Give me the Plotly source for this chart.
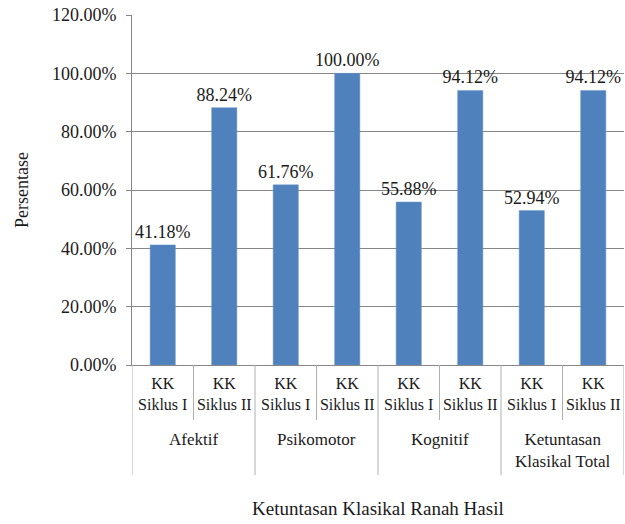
import plotly.graph_objects as go

groups = ["Afektif", "Psikomotor", "Kognitif", "Ketuntasan<br>Klasikal Total"]
siklus = ["KK<br>Siklus I", "KK<br>Siklus II"]
values = [41.18, 88.24, 61.76, 100.00, 55.88, 94.12, 52.94, 94.12]
y_ticks = [0, 20, 40, 60, 80, 100, 120]

labels = [s for g in groups for s in siklus]
xs = list(range(len(labels)))
vals = [v / 100 for v in values]

W, H = 625, 524
ML, MR, MT, MB = 132, 1, 15, 159
plot_h = H - MT - MB

font = "Liberation Serif"
txt = "#1a1a1a"
grey = "#868686"

fig = go.Figure(go.Bar(
    x=xs, y=vals,
    marker=dict(color="#4F81BD", line=dict(color="#6f98cc", width=0.5)),
    width=0.41,
    text=[f"{v:.2f}%" for v in values],
    textposition="outside",
    constraintext="none",
    textfont=dict(family=font, size=18, color=txt),
    outsidetextfont=dict(family=font, size=18, color=txt),
    cliponaxis=False,
))

fig.update_xaxes(
    range=[-0.5, len(labels) - 0.5],
    tickvals=xs, ticktext=labels,
    tickfont=dict(family=font, size=16, color=txt),
    ticks="", ticklabelstandoff=4,
    showline=True, linecolor=grey, linewidth=1,
    showgrid=False, zeroline=False,
)
fig.update_yaxes(
    range=[0, 1.2],
    tickvals=[t / 100 for t in y_ticks],
    tickformat=".2%",
    tickfont=dict(family=font, size=18, color=txt),
    ticks="outside", ticklen=5, tickcolor=grey, ticklabelstandoff=6,
    showline=True, linecolor=grey, linewidth=1,
    showgrid=True, gridcolor=grey, gridwidth=1,
    zeroline=False,
    title=dict(text="Persentase", font=dict(family=font, size=18, color=txt), standoff=18),
)

# dividers between categories (short) and groups (long)
for k in range(len(labels) + 1):
    depth = 110 if k % 2 == 0 else 55
    fig.add_shape(type="line", xref="x", yref="paper",
                  x0=k - 0.5, x1=k - 0.5, y0=0, y1=-depth / plot_h,
                  line=dict(color="#b0b0b0", width=1))

for i, g in enumerate(groups):
    fig.add_annotation(x=2 * i + 0.5, y=0, xref="x", yref="paper",
                       text=g, showarrow=False, yanchor="top", yshift=-63,
                       font=dict(family=font, size=17, color=txt))

fig.add_annotation(x=0.5, y=0, xref="paper", yref="paper",
                   text="Ketuntasan Klasikal Ranah Hasil", showarrow=False,
                   yanchor="middle", yshift=-(508 - (H - MB)),
                   font=dict(family=font, size=19, color=txt))

fig.update_layout(
    width=W, height=H,
    margin=dict(l=ML, r=MR, t=MT, b=MB, autoexpand=False),
    paper_bgcolor="white", plot_bgcolor="white",
    showlegend=False,
)

fig.write_html("out.html", config={"displayModeBar": False},
               post_script="document.body.style.margin='0';")
